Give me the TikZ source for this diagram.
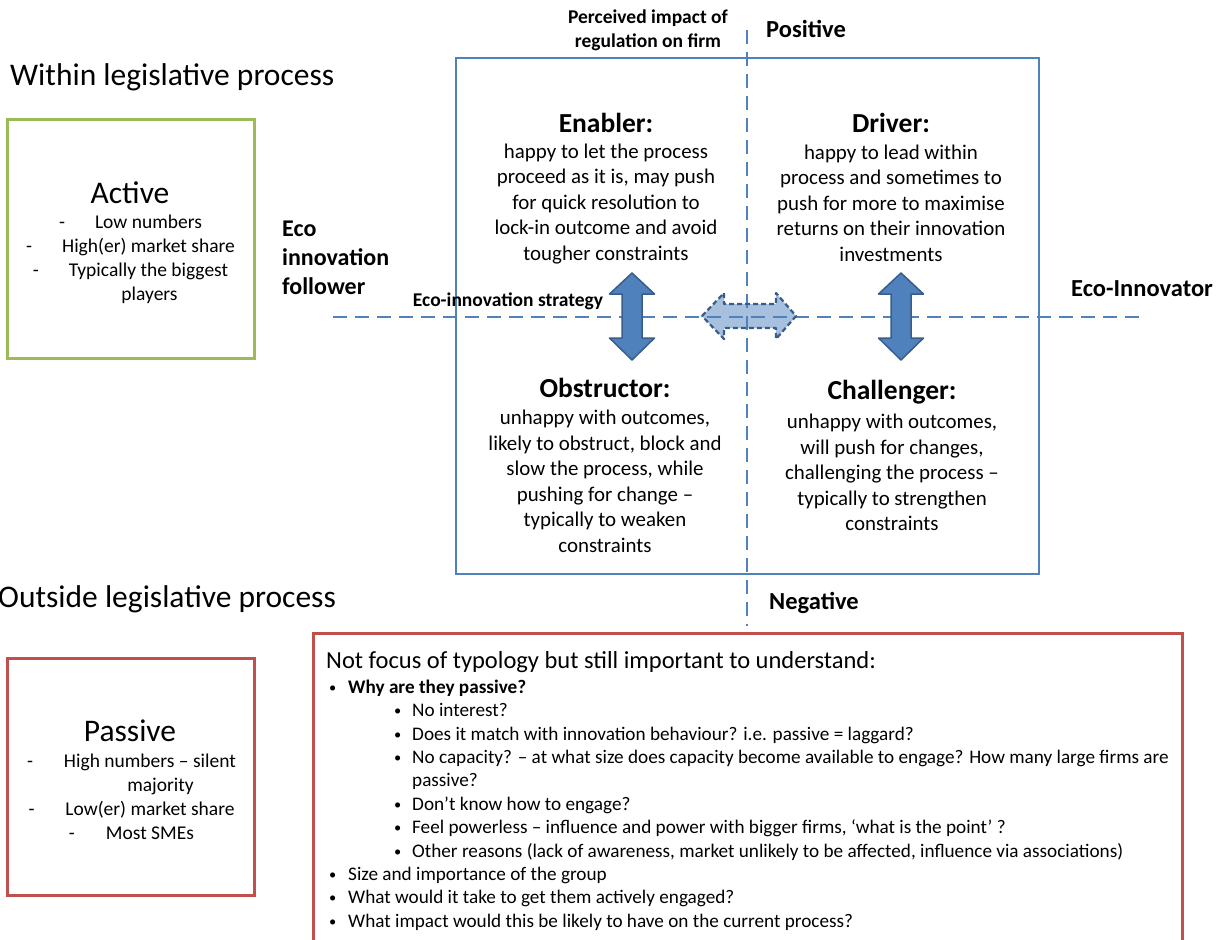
\documentclass[tikz,border=0pt]{standalone}
\usepackage{fontspec}
\setmainfont{Carlito}
\usetikzlibrary{positioning}
\definecolor{quadblue}{HTML}{4F81BD}
\definecolor{arrowedge}{HTML}{385D8A}
\definecolor{activegreen}{HTML}{9BBB59}
\definecolor{passivered}{HTML}{C0504D}
\newcommand\notebullet{\raisebox{1pt}{\scalebox{0.75}{•}}}
\newcommand\bulA{\makebox[19pt][l]{\notebullet}}
\newcommand\bulB{\hspace{65pt}\makebox[18pt][l]{\notebullet}}
\tikzset{
  every node/.style={inner sep=0pt},
  axis/.style={quadblue, line width=1.5pt, dash pattern=on 14pt off 8pt},
  heading/.style={anchor=west, font=\fontsize{31.5}{36}\selectfont},
  quadtitle/.style={font=\bfseries\fontsize{27.5}{32}\selectfont},
  quadbody/.style={align=center, font=\fontsize{20.9}{25.5}\selectfont},
  axislabel/.style={font=\bfseries\fontsize{24.5}{28}\selectfont},
  smalllabel/.style={align=center, font=\bfseries\fontsize{19.5}{24}\selectfont},
  grouptitle/.style={font=\fontsize{31.5}{36}\selectfont},
  groupitems/.style={align=center, font=\fontsize{19.5}{24}\selectfont},
  updown/.style={draw=arrowedge, fill=quadblue, line width=1.5pt, line join=round},
  leftright/.style={draw=arrowedge, fill=quadblue, fill opacity=0.5, line width=2.2pt,
    dash pattern=on 5pt off 3pt, line join=round},
}

\begin{document}
\begin{tikzpicture}[x=1pt, y=-1pt]
\useasboundingbox (0,0) rectangle (1225,939);

% Quadrant frame and axes
\node (frame) [draw=quadblue, line width=2.5pt, minimum width=583pt, minimum height=516pt] at (747.5,316) {};
\coordinate (ytop) at (747,30);
\coordinate (ybot) at (747,626);
\coordinate (xleft) at (333,317);
\coordinate (xright) at (1146,317);
\draw [axis] (ytop) -- (ybot);
\draw [axis] (xleft) -- (xright);

% Arrows
\foreach \ax in {632,901}
  \draw [updown] (\ax,273) -- (\ax+22.5,294) -- (\ax+10,294) -- (\ax+10,338) -- (\ax+22.5,338)
    -- (\ax,360) -- (\ax-22.5,338) -- (\ax-10,338) -- (\ax-10,294) -- (\ax-22.5,294) -- cycle;
\draw [leftright] (702,316) -- (724,293) -- (724,304) -- (776,304) -- (776,293) -- (796,316)
  -- (776,339) -- (776,328) -- (724,328) -- (724,339) -- cycle;

% Axis labels
\node (impact) [smalllabel] at (648,30) {Perceived impact of\\regulation on firm};
\node (positive) [axislabel] at (806,29) {Positive};
\node (negative) [axislabel] at (814,603) {Negative};
\node (follower) [anchor=west, align=left, font=\bfseries\fontsize{24}{29}\selectfont] at (282,258) {Eco\\innovation\\follower};
\node (strategy) [smalllabel] at (508,301) {Eco-innovation strategy};
\node (innovator) [axislabel] at (1142,289) {Eco-Innovator};

% Quadrants
\node (enabler) [quadtitle] at (606,123) {Enabler:};
\node (enablertxt) [quadbody] at (606,204) {happy to let the process\\proceed as it is, may push\\for quick resolution to\\lock-in outcome and avoid\\tougher constraints};
\node (driver) [quadtitle] at (891,123) {Driver:};
\node (drivertxt) [quadbody] at (891,203) {happy to lead within\\process and sometimes to\\push for more to maximise\\returns on their innovation\\investments};
\node (obstructor) [quadtitle] at (605,388) {Obstructor:};
\node (obstructortxt) [quadbody] at (605,481.5) {unhappy with outcomes,\\likely to obstruct, block and\\slow the process, while\\pushing for change –\\typically to weaken\\constraints};
\node (challenger) [quadtitle] at (892,392) {Challenger:};
\node (challengertxt) [quadbody] at (892,472.5) {unhappy with outcomes,\\will push for changes,\\challenging the process –\\typically to strengthen\\constraints};

% Groups
\node (within) [heading] at (10,77) {Within legislative process};
\node (outside) [heading] at (-2,599) {Outside legislative process};
\node (activebox) [draw=activegreen, line width=3pt, minimum width=247pt, minimum height=238pt] at (130.5,239) {};
\node (active) [grouptitle] at (130,193) {Active};
\node (activetxt) [groupitems] at (130.5,259) {-\hspace{30pt}Low numbers\\-\hspace{30pt}High(er) market share\\-\hspace{30pt}Typically the biggest\\\hspace{38pt}players};
\node (passivebox) [draw=passivered, line width=3pt, minimum width=247pt, minimum height=237pt] at (130.5,776.5) {};
\node (passive) [grouptitle] at (130,731) {Passive};
\node (passivetxt) [groupitems] at (131.5,797) {-\hspace{31pt}High numbers – silent\\\hspace{58pt}majority\\-\hspace{31pt}Low(er) market share\\-\hspace{31pt}Most SMEs};

% Notes on passive firms
\draw [passivered, line width=3pt] (313,960) rectangle (1182,633);
\node (notes) [anchor=west, font=\fontsize{24.5}{28}\selectfont] at (326,662) {Not focus of typology but still important to understand:};
\node (notelist) [anchor=west, align=left, font=\fontsize{19.2}{23.4}\selectfont] at (329,805) {%
\bulA\textbf{Why are they passive?}\\
\bulB No interest?\\
\bulB Does it match with innovation behaviour? i.e. passive = laggard?\\
\bulB No capacity? – at what size does capacity become available to engage? How many large firms are\\
\hspace{83pt}passive?\\
\bulB Don’t know how to engage?\\
\bulB Feel powerless – influence and power with bigger firms, ‘what is the point’ ?\\
\bulB Other reasons (lack of awareness, market unlikely to be affected, influence via associations)\\
\bulA Size and importance of the group\\
\bulA What would it take to get them actively engaged?\\
\bulA What impact would this be likely to have on the current process?};

\end{tikzpicture}
\end{document}
